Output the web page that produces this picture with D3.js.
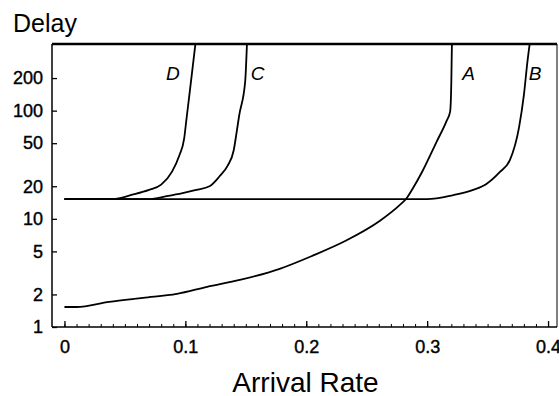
<!DOCTYPE html>
<html>
<head>
<meta charset="utf-8">
<script src="https://cdn.jsdelivr.net/npm/d3@7"></script>
<style>
  body { margin: 0; background: #fff; }
  svg { display: block; font-family: "Liberation Sans", Arial, Helvetica, sans-serif; }
</style>
</head>
<body>
<svg id="chart" width="559" height="396"></svg>
<script>
// values
var rateA = [0, 0.01, 0.037, 0.065, 0.093, 0.118, 0.145, 0.178, 0.205, 0.233, 0.261, 0.277, 0.283, 0.288, 0.296, 0.308, 0.316, 0.319, 0.320, 0.3205];
var delayA = [1.53, 1.53, 1.71, 1.86, 2.02, 2.35, 2.72, 3.45, 4.55, 6.3, 9.6, 13.3, 15.5, 19, 27.4, 52, 80, 98, 187, 430];

var rateB = [0, 0.30, 0.321, 0.338, 0.349, 0.360, 0.3685, 0.376, 0.380, 0.383, 0.385];
var delayB = [15.2, 15.2, 16.5, 18.5, 21, 27, 35, 70, 139, 287, 430];

var rateC = [0, 0.07, 0.0845, 0.0977, 0.109, 0.120, 0.128, 0.135, 0.140, 0.1425, 0.1445, 0.1495, 0.151];
var delayC = [15.2, 15.2, 16.2, 17.3, 18.5, 20, 24.5, 31, 43, 64, 90, 187, 430];

var rateD = [0, 0.04, 0.056, 0.070, 0.080, 0.089, 0.095, 0.099, 0.101, 0.103, 0.1085];
var delayD = [15.2, 15.2, 16.7, 18.5, 20.7, 27.3, 38.5, 55, 85, 130, 430];

var seriesNames = ["A", "B", "C", "D"];
var labelRates = [0.329, 0.384, 0.154, 0.084];

var xTicks = [0, 0.1, 0.2, 0.3, 0.4];
var yTicks = [1, 2, 5, 10, 20, 50, 100, 200];

var plotLeft = 52, plotRight = 557, plotTop = 44, plotBottom = 327;

var svg = d3.select("#chart");

var x = d3.scaleLinear().domain([-0.0103, 0.4074]).range([plotLeft, plotRight]);
var y = d3.scaleLog().domain([1, 413]).range([plotBottom, plotTop]);

svg.append("clipPath").attr("id", "plotClip")
  .append("rect")
  .attr("x", plotLeft).attr("y", plotTop)
  .attr("width", plotRight - plotLeft).attr("height", plotBottom - plotTop);

// minor ticks on the bottom axis
svg.append("g")
  .attr("transform", "translate(0," + plotBottom + ")")
  .call(d3.axisBottom(x).tickValues(d3.range(0, 41).map(function(i) { return i / 100; }))
    .tickSizeInner(-3).tickSizeOuter(0).tickFormat(""))
  .call(function(g) { g.select(".domain").remove(); })
  .selectAll("line").attr("stroke", "#000").attr("stroke-width", 1);

var xAxis = svg.append("g")
  .attr("transform", "translate(0," + plotBottom + ")")
  .call(d3.axisBottom(x).tickValues(xTicks).tickSizeInner(-6).tickSizeOuter(0)
    .tickPadding(13).tickFormat(function(d) { return d === 0 ? "0" : d3.format(".1f")(d); }));
xAxis.select(".domain").remove();
xAxis.selectAll("line").attr("stroke", "#000").attr("stroke-width", 1.3);
xAxis.selectAll("text").attr("font-size", 18).attr("fill", "#000")
  .attr("stroke", "#000").attr("stroke-width", 0.4)
  .attr("font-family", "'Liberation Sans', Arial, sans-serif");

var yAxis = svg.append("g")
  .attr("transform", "translate(" + plotLeft + ",0)")
  .call(d3.axisLeft(y).tickValues(yTicks).tickSizeInner(-5).tickSizeOuter(0)
    .tickPadding(9).tickFormat(d3.format("d")));
yAxis.select(".domain").remove();
yAxis.selectAll("line").attr("stroke", "#000").attr("stroke-width", 1.3);
yAxis.selectAll("text").attr("font-size", 18).attr("fill", "#000")
  .attr("stroke", "#000").attr("stroke-width", 0.4)
  .attr("font-family", "'Liberation Sans', Arial, sans-serif");

// frame
var frame = svg.append("g").attr("stroke", "#000").attr("fill", "none");
frame.append("line").attr("x1", plotLeft).attr("x2", plotLeft).attr("y1", plotTop).attr("y2", plotBottom).attr("stroke-width", 1.5);
frame.append("line").attr("x1", plotLeft).attr("x2", plotRight).attr("y1", plotBottom).attr("y2", plotBottom).attr("stroke-width", 1.5);
frame.append("line").attr("x1", plotLeft).attr("x2", plotRight).attr("y1", plotTop).attr("y2", plotTop).attr("stroke-width", 2.5);
frame.append("line").attr("x1", plotRight).attr("x2", plotRight).attr("y1", plotTop).attr("y2", plotBottom).attr("stroke-width", 1);

var line = d3.line()
  .curve(d3.curveMonotoneX)
  .x(function(d) { return x(d[0]); })
  .y(function(d) { return y(d[1]); });

var curves = [d3.zip(rateA, delayA), d3.zip(rateB, delayB), d3.zip(rateC, delayC), d3.zip(rateD, delayD)];

svg.append("g").attr("clip-path", "url(#plotClip)")
  .selectAll("path")
  .data(curves)
  .join("path")
  .attr("d", line)
  .attr("fill", "none")
  .attr("stroke", "#000")
  .attr("stroke-width", 1.8)
  .attr("stroke-linejoin", "round");

svg.append("g")
  .selectAll("text")
  .data(seriesNames)
  .join("text")
  .attr("x", function(d, i) { return x(labelRates[i]); })
  .attr("y", 80)
  .attr("font-size", 19)
  .attr("font-style", "italic")
  .text(function(d) { return d; });

svg.append("text")
  .attr("x", 13).attr("y", 32)
  .attr("font-size", 25)
  .text("Delay");

svg.append("text")
  .attr("x", 305.5).attr("y", 392)
  .attr("text-anchor", "middle")
  .attr("font-size", 28)
  .text("Arrival Rate");
</script>
</body>
</html>
